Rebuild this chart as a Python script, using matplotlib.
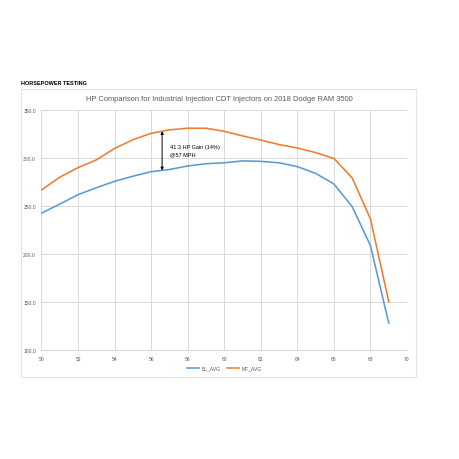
import matplotlib
matplotlib.use('Agg')
import matplotlib.pyplot as plt
import numpy as np
from matplotlib.patches import Rectangle

plt.rcParams['font.family'] = ['Liberation Sans', 'DejaVu Sans']

_MPH = list(range(50, 70))
_BL_AVG = [242.5, 252, 261.8, 269, 275.7, 281, 285.8, 288, 291.7, 294,
           295, 297, 296.5, 295, 291, 284, 272.9, 249.3, 208.7, 128]
_MF_AVG = [266.7, 280, 290, 298, 310, 319, 325.7, 329.3, 331, 331,
           327.8, 323, 318.7, 314, 310.4, 305.6, 299.6, 279.2, 236.5, 150.3]

_X_TICKS = list(range(50, 71, 2))
_Y_TICKS = [100, 150, 200, 250, 300, 350]

_BLUE = '#5B9BD5'
_ORANGE = '#ED7D31'
_GRID = '#D9D9D9'
_TEXT = '#595959'

# where the gain arrow sits on the chart
_GAIN_X = 56.6


def main():
    fig = plt.figure(figsize=(4.6, 4.6), dpi=100)
    fig.patch.set_facecolor('white')

    # chart frame
    fig.patches.append(Rectangle((0.0457, 0.1783), 0.8587, 0.626, transform=fig.transFigure,
                                 fill=False, edgecolor='#E3E3E3', linewidth=0.8))
    fig.text(0.0457, 0.815, 'HORSEPOWER TESTING', fontsize=4.0, fontweight='bold', color='black')
    fig.text(0.476, 0.783, 'HP Comparison for Industrial Injection CDT Injectors on 2018 Dodge RAM 3500',
             fontsize=5.4, color=_TEXT, ha='center', va='center')

    ax = fig.add_axes([0.0902, 0.2370, 0.7946, 0.5217])
    ax.plot(_MPH, _BL_AVG, color=_BLUE, linewidth=1.15, label='BL_AVG')
    ax.plot(_MPH, _MF_AVG, color=_ORANGE, linewidth=1.15, label='MF_AVG')

    ax.set_xlim(50, 70)
    ax.set_ylim(100, 350)
    ax.set_xticks(_X_TICKS)
    ax.set_yticks(_Y_TICKS)
    ax.set_yticklabels([f'{v:.1f}' for v in _Y_TICKS])
    ax.grid(True, color=_GRID, linewidth=0.7)
    ax.set_axisbelow(True)
    for side in ['top', 'right', 'left']:
        ax.spines[side].set_visible(False)
    ax.spines['bottom'].set_color(_GRID)
    ax.tick_params(axis='both', length=0, labelsize=3.6, colors=_TEXT, pad=4)

    top = np.interp(_GAIN_X, _MPH, _MF_AVG)
    bottom = np.interp(_GAIN_X, _MPH, _BL_AVG)
    ax.annotate('', xy=(_GAIN_X, top), xytext=(_GAIN_X, bottom),
                arrowprops=dict(arrowstyle='<|-|>', color='black', lw=0.7,
                                mutation_scale=4, shrinkA=0, shrinkB=0))
    ax.text(_GAIN_X + 0.42, (top + bottom) / 2 + 1, '41.3 HP Gain (14%)\n@57 MPH',
            fontsize=4.0, color='black', va='center', ha='left', linespacing=1.6)

    ax.legend(loc='upper center', bbox_to_anchor=(0.5, -0.045), ncol=2, frameon=False,
              fontsize=3.6, handlelength=2.4, handletextpad=0.5, columnspacing=1.2,
              labelcolor=_TEXT)

    fig.savefig('out.png', dpi=100, facecolor='white')
    plt.close(fig)


if __name__ == '__main__':
    main()
